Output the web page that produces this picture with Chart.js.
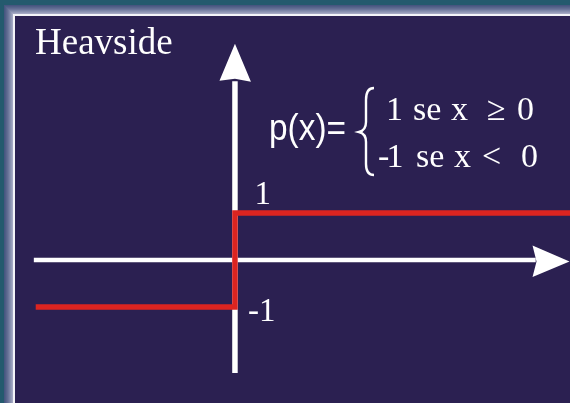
<!DOCTYPE html>
<html>
<head>
<meta charset="utf-8">
<script src="https://cdn.jsdelivr.net/npm/chart.js@4/dist/chart.umd.min.js"></script>
<style>
  html, body { margin: 0; padding: 0; background: #2b2051; }
  canvas { display: block; }
</style>
</head>
<body>
<canvas id="c" width="570" height="403"></canvas>
<script>
// step function p(x): -1 for x < 0, 1 for x >= 0
const stepX = [-4.24, 0, 0, 7.13];
const stepY = [-1, -1, 1, 1];

// labels of the levels on the vertical axis
const tickValues = [1, -1];
const tickLabels = ['1', '-1'];

const chartTitle = 'Heavside';
const formulaLeft = 'p(x)=';
const formulaLine1 = [['1', 386], ['se', 413], ['x', 451], ['\u2265', 487], ['0', 517]];
const formulaLine2 = [['-', 378], ['1', 386.5], ['se', 416], ['x', 454], ['<', 482], ['0', 521]];

// axis extents (data units)
const xAxisFrom = -4.28, xAxisTo = 6.4, xArrowTip = 7.12;
const yAxisFrom = -2.4, yAxisTo = 3.8, yArrowTip = 4.6;

const navy = '#2b2051';
const red = '#dc2420';
const serif = '"Liberation Serif", "Times New Roman", serif';
const sans = '"Liberation Sans", Arial, sans-serif';

let frame = {
	id: 'frame',
	beforeDraw(chart) {
		let ctx = chart.ctx;
		let w = chart.width, h = chart.height;
		ctx.save();
		ctx.fillStyle = '#245a6e';
		ctx.fillRect(0, 0, w, h);
		let bevel = ['#465680', '#4f5d86', '#58658c', '#626d93', '#6d779b', '#7a83a5', '#878fae', '#959bb8', '#a5a9c3'];
		bevel.forEach(function (c, i) {
			ctx.fillStyle = c;
			ctx.fillRect(4 + i, 5 + i, w, h);
		});
		ctx.fillStyle = '#f4f4f8';
		ctx.fillRect(13, 14, w, h);
		ctx.fillStyle = navy;
		ctx.fillRect(15, 16, w, h);
		ctx.restore();
	}
};

let arrows = {
	id: 'arrows',
	afterDatasetsDraw(chart) {
		let ctx = chart.ctx;
		let xs = chart.scales.x, ys = chart.scales.y;
		let x0 = xs.getPixelForValue(0), y0 = ys.getPixelForValue(0);
		ctx.save();
		ctx.fillStyle = '#ffffff';
		// vertical arrow head
		let ty = ys.getPixelForValue(yArrowTip);
		ctx.beginPath();
		ctx.moveTo(x0, ty);
		ctx.lineTo(x0 + 16, ty + 38);
		ctx.lineTo(x0, ty + 35);
		ctx.lineTo(x0 - 15.5, ty + 37);
		ctx.closePath();
		ctx.fill();
		// horizontal arrow head
		let tx = xs.getPixelForValue(xArrowTip);
		ctx.beginPath();
		ctx.moveTo(tx, y0 + 1.5);
		ctx.lineTo(tx - 37, y0 + 17);
		ctx.lineTo(tx - 33, y0 + 1.5);
		ctx.lineTo(tx - 37, y0 - 14.5);
		ctx.closePath();
		ctx.fill();
		ctx.restore();
	}
};

let texts = {
	id: 'texts',
	afterDraw(chart) {
		let ctx = chart.ctx;
		let xs = chart.scales.x, ys = chart.scales.y;
		let x0 = xs.getPixelForValue(0);
		ctx.save();
		ctx.fillStyle = '#ffffff';
		ctx.textBaseline = 'alphabetic';
		ctx.textAlign = 'left';

		ctx.font = '37px ' + serif;
		ctx.fillText(chartTitle, 35, 54);

		ctx.font = '33px ' + serif;
		tickValues.forEach(function (v, i) {
			let py = ys.getPixelForValue(v);
			if (v > 0) {
				ctx.fillText(tickLabels[i], x0 + 19.5, py - 9);
			} else {
				ctx.fillText(tickLabels[i], x0 + 13, py + 13.5);
			}
		});

		ctx.font = '34px ' + serif;
		formulaLine1.forEach(function (t) { ctx.fillText(t[0], t[1], 119.5); });
		formulaLine2.forEach(function (t) { ctx.fillText(t[0], t[1], 166.5); });

		ctx.font = '37px ' + sans;
		ctx.save();
		ctx.translate(269, 140);
		let wText = ctx.measureText(formulaLeft).width;
		ctx.scale(77 / wText, 1);
		ctx.fillText(formulaLeft, 0, 0);
		ctx.restore();

		// brace
		ctx.strokeStyle = '#ffffff';
		ctx.lineWidth = 2.4;
		ctx.beginPath();
		ctx.moveTo(374, 88);
		ctx.bezierCurveTo(368, 88, 366, 93, 366, 100);
		ctx.lineTo(366, 122);
		ctx.bezierCurveTo(366, 128, 363, 131, 359, 132);
		ctx.bezierCurveTo(363, 133, 366, 136, 366, 142);
		ctx.lineTo(366, 164);
		ctx.bezierCurveTo(366, 170, 368, 175, 374, 175);
		ctx.stroke();
		ctx.restore();
	}
};

function toPoints(xs, ys) {
	let pts = [];
	xs.forEach(function (x, i) {
		pts.push({ x: x, y: ys[i] });
	});
	return pts;
}

let ctx = document.getElementById('c');
let myChart = new Chart(ctx, {
	type: 'line',
	data: {
		datasets: [
			{
				label: 'p(x)',
				data: toPoints(stepX, stepY),
				borderColor: red,
				borderWidth: 5.5,
				borderJoinStyle: 'miter',
				pointRadius: 0,
				fill: false,
				order: 0
			},
			{
				label: 'x axis',
				data: [{ x: xAxisFrom, y: 0 }, { x: xAxisTo, y: 0 }],
				borderColor: '#ffffff',
				borderWidth: 4.5,
				pointRadius: 0,
				fill: false,
				order: 1
			},
			{
				label: 'y axis',
				data: [{ x: 0, y: yAxisFrom }, { x: 0, y: yAxisTo }],
				borderColor: '#ffffff',
				borderWidth: 5.5,
				pointRadius: 0,
				fill: false,
				order: 2
			}
		]
	},
	options: {
		responsive: false,
		animation: false,
		devicePixelRatio: 1,
		layout: { padding: 0 },
		plugins: {
			legend: { display: false },
			tooltip: { enabled: false },
			title: { display: false }
		},
		scales: {
			x: { type: 'linear', min: -5, max: 7.13, display: false },
			y: { type: 'linear', min: -3.04, max: 5.53, display: false }
		}
	},
	plugins: [frame, arrows, texts]
});
</script>
</body>
</html>
